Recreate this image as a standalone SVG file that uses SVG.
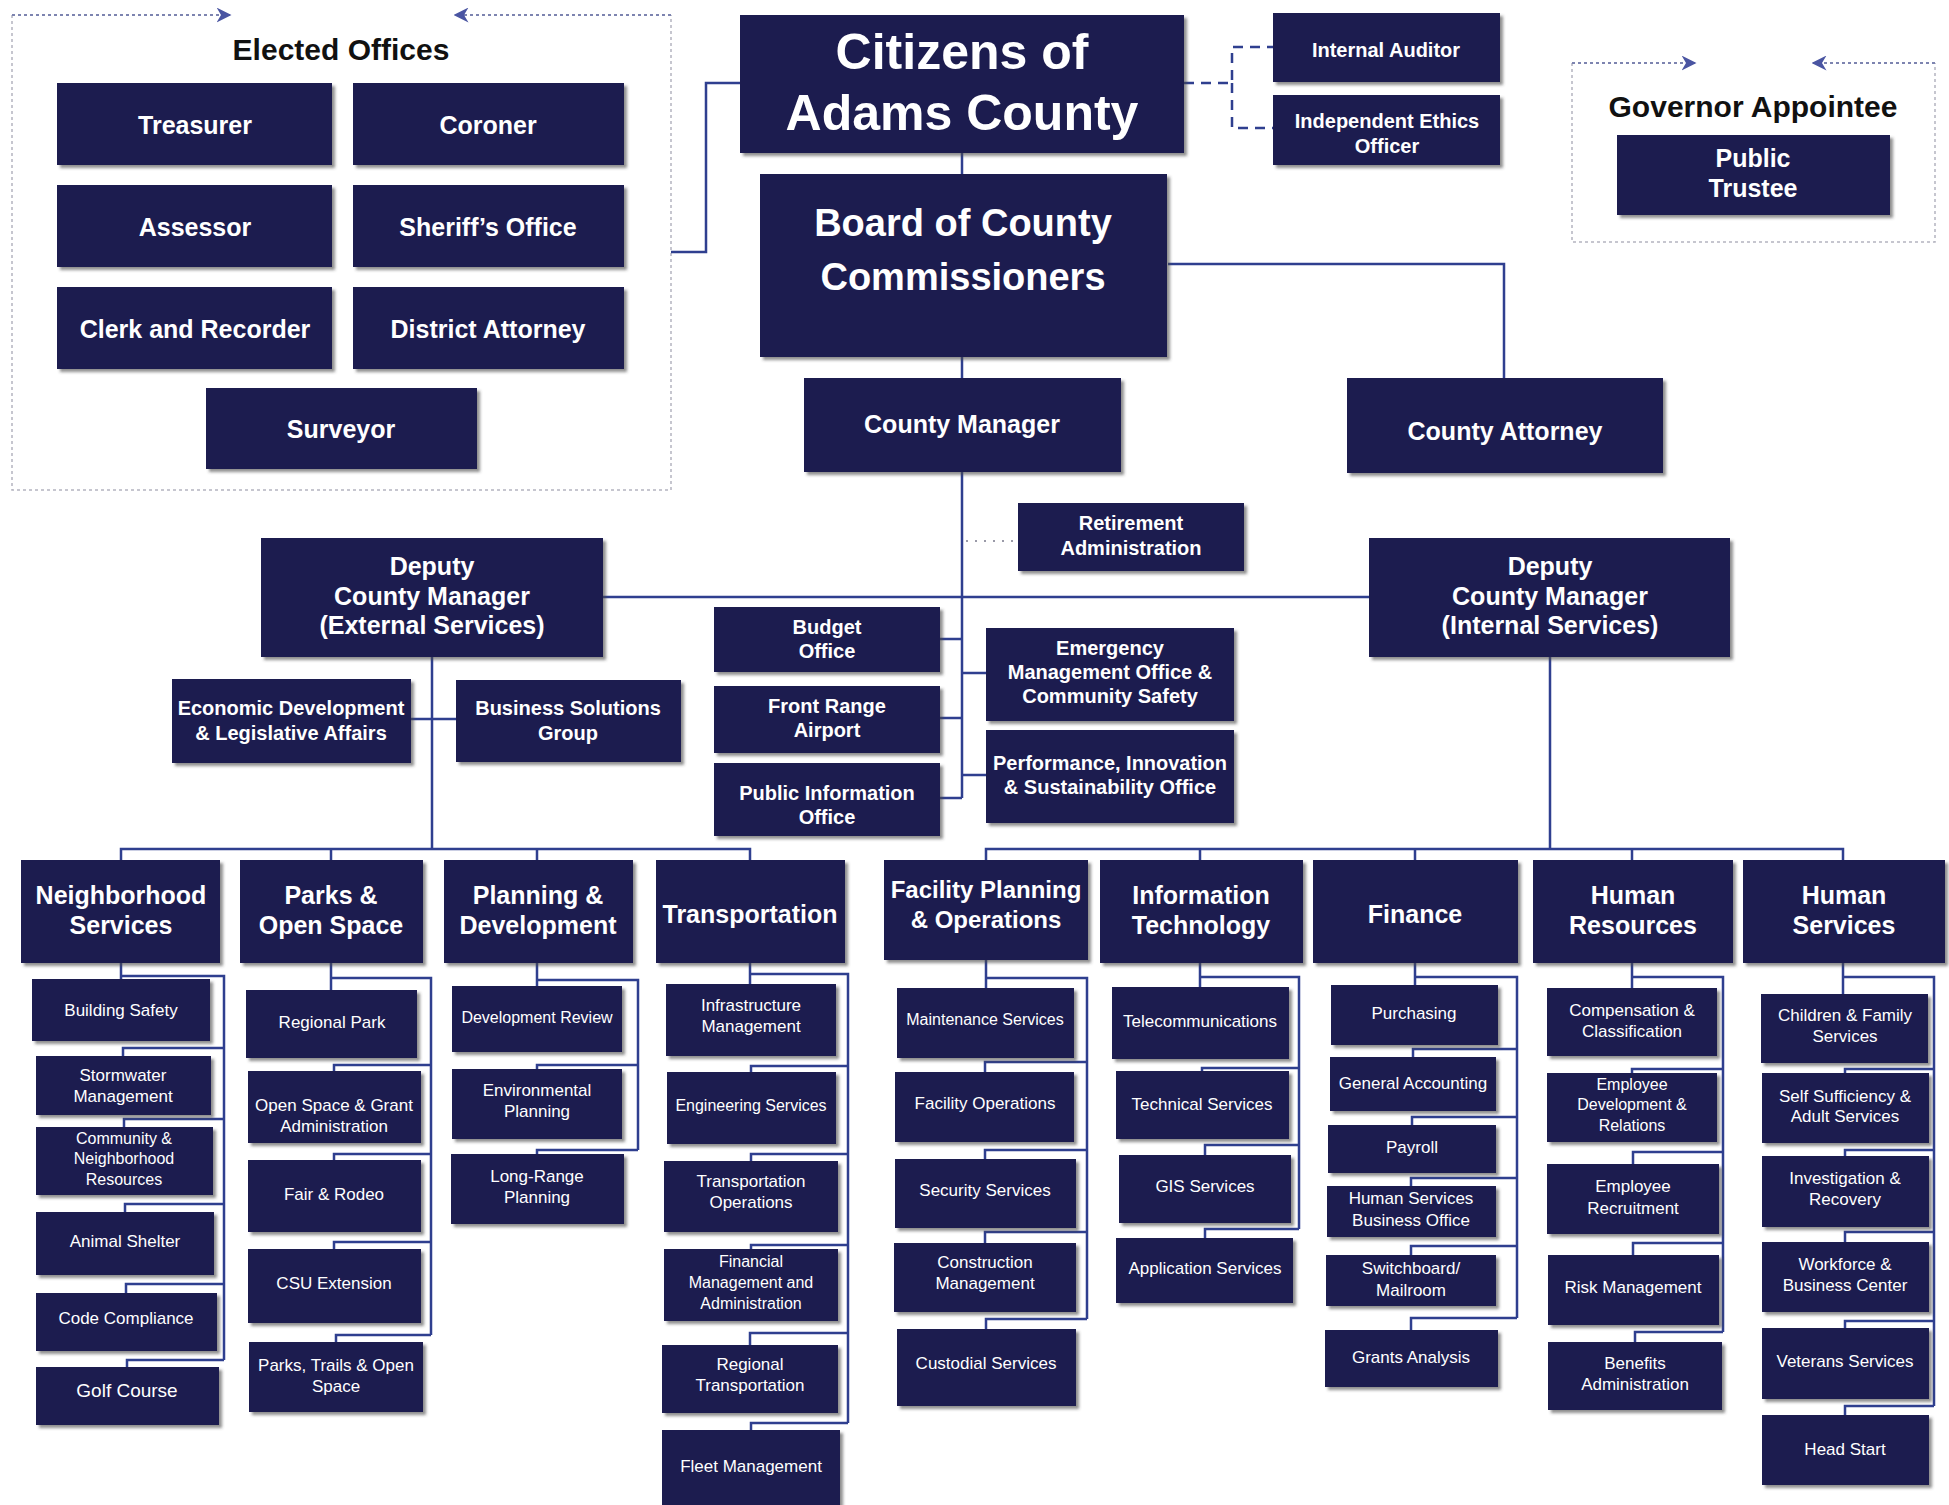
<svg xmlns="http://www.w3.org/2000/svg" width="1949" height="1505" viewBox="0 0 1949 1505">
<defs>
<style>
.b{fill:#1c1e4f;filter:url(#sh)}
text{font-family:"Liberation Sans",Arial,sans-serif;text-anchor:middle;fill:#fff}
.f17{font-size:17px}
.f16{font-size:16px}
.f19{font-size:19px}
.f20{font-weight:bold;font-size:20px}
.f24{font-weight:bold;font-size:24px}
.f25{font-weight:bold;font-size:25px}
.big{font-weight:bold;font-size:50px}
.brd{font-weight:bold;font-size:38px}
.ttl{fill:#111;font-weight:bold;font-size:30px}
.c{fill:none;stroke:#2f3f8f;stroke-width:2.5}
.cd{fill:none;stroke:#2f3f8f;stroke-width:2.5;stroke-dasharray:10 7}
.dot{fill:none;stroke:#b4b4c0;stroke-width:1.5;stroke-dasharray:3 3}
.dot2{fill:none;stroke:#7d84b0;stroke-width:2;stroke-dasharray:3 3}
.rdot{fill:none;stroke:#9a9aa8;stroke-width:2;stroke-dasharray:2 7}
</style>
<filter id="sh" x="-5%" y="-5%" width="115%" height="125%">
<feDropShadow dx="3" dy="3" stdDeviation="1.5" flood-color="#444" flood-opacity="0.6"/>
</filter>
<marker id="ah" viewBox="0 0 10 10" refX="9" refY="5" markerWidth="15" markerHeight="15" markerUnits="userSpaceOnUse" orient="auto">
<path d="M0,0 L10,5 L0,10 L3,5 Z" fill="#4a55a2"/>
</marker>
</defs>
<rect width="1949" height="1505" fill="#fff"/>

<g id="containers">
<path class="dot" d="M12,15 V490 H671 V15"/>
<path class="dot2" d="M12,15 H230" marker-end="url(#ah)"/>
<path class="dot2" d="M671,15 H455" marker-end="url(#ah)"/>
<text class="ttl" x="341" y="60">Elected Offices</text>
<path class="dot" d="M1572,63 V242 H1935 V63"/>
<path class="dot2" d="M1572,63 H1695" marker-end="url(#ah)"/>
<path class="dot2" d="M1935,63 H1813" marker-end="url(#ah)"/>
<text class="ttl" x="1753" y="117">Governor Appointee</text>
</g>

<g id="connectors">
<path class="c" d="M671,252 H706 V83 H740"/>
<path class="c" d="M962,153 V175"/>
<path class="c" d="M962,357 V378"/>
<path class="c" d="M1168,264 H1504 V378"/>
<path class="cd" d="M1184,83 H1232 V47 H1273 M1232,83 V128 H1273"/>
<path class="c" d="M962,472 V798"/>
<path class="rdot" d="M966,541 H1016"/>
<path class="c" d="M603,597 H1369"/>
<path class="c" d="M940,639 H962 M962,673 H986 M940,718 H962 M962,775 H986 M940,798 H962"/>
<path class="c" d="M432,657 V849 M411,719 H456"/>
<path class="c" d="M121,860 V849 H750 V860 M331,849 V860 M537,849 V860"/>
<path class="c" d="M1550,657 V849 M986,860 V849 H1843 V860 M1200,849 V860 M1415,849 V860 M1632,849 V860"/>
<path class="c" d="M121,963 V979 M121,976 H224 V1360 M123,1056 V1048 H224 M124,1127 V1119 H224 M125,1212 V1204 H224 M126,1293 V1284 H224 M127,1367 V1360 H224"/>
<path class="c" d="M331,963 V990 M331,978 H431 V1335 M334,1071 V1065 H431 M334,1160 V1154 H431 M334,1249 V1242 H431 M336,1342 V1335 H431"/>
<path class="c" d="M537,963 V986 M537,980 H638 V1150 M537,1069 V1065 H638 M537,1154 V1150 H638"/>
<path class="c" d="M750,963 V984 M750,974 H848 V1423 M751,1072 V1066 H848 M751,1161 V1154 H848 M751,1249 V1245 H848 M750,1345 V1333 H848 M751,1430 V1423 H848"/>
<path class="c" d="M986,960 V988 M986,978 H1087 V1319 M985,1072 V1062 H1087 M985,1159 V1150 H1087 M985,1243 V1232 H1087 M986,1329 V1319 H1087"/>
<path class="c" d="M1200,963 V987 M1200,977 H1299 V1229 M1202,1071 V1068 H1299 M1205,1155 V1145 H1299 M1205,1238 V1229 H1299"/>
<path class="c" d="M1415,963 V985 M1415,977 H1517 V1318 M1413,1057 V1049 H1517 M1412,1125 V1117 H1517 M1411,1186 V1178 H1517 M1411,1255 V1246 H1517 M1411,1330 V1318 H1517"/>
<path class="c" d="M1632,963 V988 M1632,977 H1723 V1332 M1632,1073 V1069 H1723 M1633,1164 V1152 H1723 M1633,1255 V1243 H1723 M1635,1342 V1332 H1723"/>
<path class="c" d="M1843,963 V994 M1843,977 H1934 V1406 M1845,1073 V1069 H1934 M1845,1156 V1150 H1934 M1845,1242 V1232 H1934 M1845,1328 V1321 H1934 M1845,1415 V1406 H1934"/>
</g>

<g id="treasurer"><rect class="b" x="57" y="83" width="275" height="82"/><text class="f25" x="195" y="134">Treasurer</text></g>
<g id="coroner"><rect class="b" x="353" y="83" width="271" height="82"/><text class="f25" x="488" y="134">Coroner</text></g>
<g id="assessor"><rect class="b" x="57" y="185" width="275" height="82"/><text class="f25" x="195" y="236">Assessor</text></g>
<g id="sheriff"><rect class="b" x="353" y="185" width="271" height="82"/><text class="f25" x="488" y="236">Sheriff’s Office</text></g>
<g id="clerk"><rect class="b" x="57" y="287" width="275" height="82"/><text class="f25" x="195" y="338">Clerk and Recorder</text></g>
<g id="da"><rect class="b" x="353" y="287" width="271" height="82"/><text class="f25" x="488" y="338">District Attorney</text></g>
<g id="surveyor"><rect class="b" x="206" y="388" width="271" height="81"/><text class="f25" x="341" y="438">Surveyor</text></g>

<g id="citizens"><rect class="b" x="740" y="15" width="444" height="138"/><text class="big" x="962" y="69">Citizens of</text><text class="big" x="962" y="130">Adams County</text></g>
<g id="board"><rect class="b" x="760" y="174" width="407" height="183"/><text class="brd" x="963" y="236">Board of County</text><text class="brd" x="963" y="290">Commissioners</text></g>
<g id="internal-auditor"><rect class="b" x="1273" y="13" width="227" height="69"/><text class="f20" x="1386" y="57">Internal Auditor</text></g>
<g id="ethics"><rect class="b" x="1273" y="95" width="227" height="70"/><text class="f20" x="1387" y="128">Independent Ethics</text><text class="f20" x="1387" y="153">Officer</text></g>
<g id="public-trustee"><rect class="b" x="1617" y="135" width="273" height="80"/><text class="f25" x="1753" y="167">Public</text><text class="f25" x="1753" y="197">Trustee</text></g>
<g id="county-manager"><rect class="b" x="804" y="378" width="317" height="94"/><text class="f25" x="962" y="433">County Manager</text></g>
<g id="county-attorney"><rect class="b" x="1347" y="378" width="316" height="95"/><text class="f25" x="1505" y="440">County Attorney</text></g>

<g id="retirement"><rect class="b" x="1018" y="503" width="226" height="68"/><text class="f20" x="1131" y="530">Retirement</text><text class="f20" x="1131" y="555">Administration</text></g>
<g id="deputy-ext"><rect class="b" x="261" y="538" width="342" height="119"/><text class="f25" x="432" y="575">Deputy</text><text class="f25" x="432" y="605">County Manager</text><text class="f25" x="432" y="634">(External Services)</text></g>
<g id="deputy-int"><rect class="b" x="1369" y="538" width="361" height="119"/><text class="f25" x="1550" y="575">Deputy</text><text class="f25" x="1550" y="605">County Manager</text><text class="f25" x="1550" y="634">(Internal Services)</text></g>
<g id="budget"><rect class="b" x="714" y="607" width="226" height="65"/><text class="f20" x="827" y="634">Budget</text><text class="f20" x="827" y="658">Office</text></g>
<g id="airport"><rect class="b" x="714" y="686" width="226" height="67"/><text class="f20" x="827" y="713">Front Range</text><text class="f20" x="827" y="737">Airport</text></g>
<g id="pio"><rect class="b" x="714" y="763" width="226" height="73"/><text class="f20" x="827" y="800">Public Information</text><text class="f20" x="827" y="824">Office</text></g>
<g id="emergency"><rect class="b" x="986" y="628" width="248" height="93"/><text class="f20" x="1110" y="655">Emergency</text><text class="f20" x="1110" y="679">Management Office &amp;</text><text class="f20" x="1110" y="703">Community Safety</text></g>
<g id="performance"><rect class="b" x="986" y="730" width="248" height="93"/><text class="f20" x="1110" y="770" textLength="234" lengthAdjust="spacingAndGlyphs">Performance, Innovation</text><text class="f20" x="1110" y="794">&amp; Sustainability Office</text></g>
<g id="econdev"><rect class="b" x="172" y="679" width="239" height="84"/><text class="f20" x="291" y="715">Economic Development</text><text class="f20" x="291" y="740">&amp; Legislative Affairs</text></g>
<g id="bsg"><rect class="b" x="456" y="680" width="225" height="82"/><text class="f20" x="568" y="715">Business Solutions</text><text class="f20" x="568" y="740">Group</text></g>

<g id="neighborhood"><rect class="b" x="21" y="860" width="199" height="103"/><text class="f25" x="121" y="904">Neighborhood</text><text class="f25" x="121" y="934">Services</text></g>
<g id="parks"><rect class="b" x="240" y="860" width="183" height="103"/><text class="f25" x="331" y="904">Parks &amp;</text><text class="f25" x="331" y="934">Open Space</text></g>
<g id="planning"><rect class="b" x="444" y="860" width="189" height="103"/><text class="f25" x="538" y="904">Planning &amp;</text><text class="f25" x="538" y="934">Development</text></g>
<g id="transportation"><rect class="b" x="656" y="860" width="189" height="103"/><text class="f25" x="750" y="923">Transportation</text></g>
<g id="facility"><rect class="b" x="884" y="860" width="204" height="100"/><text class="f24" x="986" y="898">Facility Planning</text><text class="f24" x="986" y="928">&amp; Operations</text></g>
<g id="it"><rect class="b" x="1100" y="860" width="203" height="103"/><text class="f25" x="1201" y="904">Information</text><text class="f25" x="1201" y="934">Technology</text></g>
<g id="finance"><rect class="b" x="1313" y="860" width="205" height="103"/><text class="f25" x="1415" y="923">Finance</text></g>
<g id="hr"><rect class="b" x="1533" y="860" width="200" height="103"/><text class="f25" x="1633" y="904">Human</text><text class="f25" x="1633" y="934">Resources</text></g>
<g id="hs"><rect class="b" x="1743" y="860" width="202" height="103"/><text class="f25" x="1844" y="904">Human</text><text class="f25" x="1844" y="934">Services</text></g>

<g id="building-safety"><rect class="b" x="32" y="979" width="178" height="62"/><text class="f17" x="121" y="1016">Building Safety</text></g>
<g id="stormwater"><rect class="b" x="36" y="1056" width="175" height="59"/><text class="f17" x="123" y="1081">Stormwater</text><text class="f17" x="123" y="1102">Management</text></g>
<g id="community"><rect class="b" x="36" y="1127" width="177" height="68"/><text class="f16" x="124" y="1144">Community &amp;</text><text class="f16" x="124" y="1164">Neighborhood</text><text class="f16" x="124" y="1185">Resources</text></g>
<g id="animal-shelter"><rect class="b" x="36" y="1212" width="178" height="63"/><text class="f17" x="125" y="1247">Animal Shelter</text></g>
<g id="code-compliance"><rect class="b" x="36" y="1293" width="181" height="58"/><text class="f17" x="126" y="1324">Code Compliance</text></g>
<g id="golf-course"><rect class="b" x="36" y="1367" width="183" height="58"/><text class="f19" x="127" y="1397">Golf Course</text></g>

<g id="regional-park"><rect class="b" x="246" y="990" width="171" height="68"/><text class="f17" x="332" y="1028">Regional Park</text></g>
<g id="open-space-grant"><rect class="b" x="248" y="1071" width="173" height="72"/><text class="f17" x="334" y="1111">Open Space &amp; Grant</text><text class="f17" x="334" y="1132">Administration</text></g>
<g id="fair-rodeo"><rect class="b" x="248" y="1160" width="173" height="72"/><text class="f17" x="334" y="1200">Fair &amp; Rodeo</text></g>
<g id="csu"><rect class="b" x="248" y="1249" width="173" height="74"/><text class="f17" x="334" y="1289">CSU Extension</text></g>
<g id="parks-trails"><rect class="b" x="249" y="1342" width="174" height="70"/><text class="f17" x="336" y="1371">Parks, Trails &amp; Open</text><text class="f17" x="336" y="1392">Space</text></g>

<g id="dev-review"><rect class="b" x="452" y="986" width="170" height="66"/><text class="f16" x="537" y="1023">Development Review</text></g>
<g id="env-planning"><rect class="b" x="452" y="1069" width="170" height="70"/><text class="f17" x="537" y="1096">Environmental</text><text class="f17" x="537" y="1117">Planning</text></g>
<g id="long-range"><rect class="b" x="451" y="1154" width="173" height="70"/><text class="f17" x="537" y="1182">Long-Range</text><text class="f17" x="537" y="1203">Planning</text></g>

<g id="infrastructure"><rect class="b" x="666" y="984" width="170" height="72"/><text class="f17" x="751" y="1011">Infrastructure</text><text class="f17" x="751" y="1032">Management</text></g>
<g id="engineering"><rect class="b" x="667" y="1072" width="169" height="72"/><text class="f16" x="751" y="1111">Engineering Services</text></g>
<g id="trans-ops"><rect class="b" x="664" y="1161" width="174" height="71"/><text class="f17" x="751" y="1187">Transportation</text><text class="f17" x="751" y="1208">Operations</text></g>
<g id="fin-mgmt"><rect class="b" x="664" y="1249" width="174" height="72"/><text class="f16" x="751" y="1267">Financial</text><text class="f16" x="751" y="1288">Management and</text><text class="f16" x="751" y="1309">Administration</text></g>
<g id="regional-trans"><rect class="b" x="662" y="1345" width="176" height="68"/><text class="f17" x="750" y="1370">Regional</text><text class="f17" x="750" y="1391">Transportation</text></g>
<g id="fleet"><rect class="b" x="662" y="1430" width="178" height="80"/><text class="f17" x="751" y="1472">Fleet Management</text></g>

<g id="maintenance"><rect class="b" x="897" y="988" width="177" height="70"/><text class="f16" x="985" y="1025">Maintenance Services</text></g>
<g id="facility-ops"><rect class="b" x="895" y="1072" width="179" height="70"/><text class="f17" x="985" y="1109">Facility Operations</text></g>
<g id="security"><rect class="b" x="895" y="1159" width="181" height="69"/><text class="f17" x="985" y="1196">Security Services</text></g>
<g id="construction"><rect class="b" x="894" y="1243" width="182" height="69"/><text class="f17" x="985" y="1268">Construction</text><text class="f17" x="985" y="1289">Management</text></g>
<g id="custodial"><rect class="b" x="897" y="1329" width="179" height="77"/><text class="f17" x="986" y="1369">Custodial Services</text></g>

<g id="telecom"><rect class="b" x="1112" y="987" width="177" height="72"/><text class="f17" x="1200" y="1027">Telecommunications</text></g>
<g id="technical"><rect class="b" x="1116" y="1071" width="173" height="68"/><text class="f17" x="1202" y="1110">Technical Services</text></g>
<g id="gis"><rect class="b" x="1119" y="1155" width="172" height="68"/><text class="f17" x="1205" y="1192">GIS Services</text></g>
<g id="application"><rect class="b" x="1116" y="1238" width="177" height="65"/><text class="f17" x="1205" y="1274">Application Services</text></g>

<g id="purchasing"><rect class="b" x="1331" y="985" width="167" height="60"/><text class="f17" x="1414" y="1019">Purchasing</text></g>
<g id="gen-accounting"><rect class="b" x="1330" y="1057" width="166" height="54"/><text class="f17" x="1413" y="1089">General Accounting</text></g>
<g id="payroll"><rect class="b" x="1328" y="1125" width="168" height="48"/><text class="f17" x="1412" y="1153">Payroll</text></g>
<g id="hs-business"><rect class="b" x="1327" y="1186" width="169" height="51"/><text class="f17" x="1411" y="1204">Human Services</text><text class="f17" x="1411" y="1226">Business Office</text></g>
<g id="switchboard"><rect class="b" x="1326" y="1255" width="170" height="51"/><text class="f17" x="1411" y="1274">Switchboard/</text><text class="f17" x="1411" y="1296">Mailroom</text></g>
<g id="grants"><rect class="b" x="1325" y="1330" width="173" height="57"/><text class="f17" x="1411" y="1363">Grants Analysis</text></g>

<g id="compensation"><rect class="b" x="1547" y="988" width="170" height="68"/><text class="f17" x="1632" y="1016">Compensation &amp;</text><text class="f17" x="1632" y="1037">Classification</text></g>
<g id="emp-dev"><rect class="b" x="1547" y="1073" width="170" height="69"/><text class="f16" x="1632" y="1090">Employee</text><text class="f16" x="1632" y="1110">Development &amp;</text><text class="f16" x="1632" y="1131">Relations</text></g>
<g id="recruitment"><rect class="b" x="1547" y="1164" width="172" height="70"/><text class="f17" x="1633" y="1192">Employee</text><text class="f17" x="1633" y="1214">Recruitment</text></g>
<g id="risk"><rect class="b" x="1548" y="1255" width="171" height="70"/><text class="f17" x="1633" y="1293">Risk Management</text></g>
<g id="benefits"><rect class="b" x="1548" y="1342" width="174" height="68"/><text class="f17" x="1635" y="1369">Benefits</text><text class="f17" x="1635" y="1390">Administration</text></g>

<g id="children-family"><rect class="b" x="1761" y="994" width="167" height="69"/><text class="f17" x="1845" y="1021">Children &amp; Family</text><text class="f17" x="1845" y="1042">Services</text></g>
<g id="self-sufficiency"><rect class="b" x="1762" y="1073" width="167" height="70"/><text class="f17" x="1845" y="1102">Self Sufficiency &amp;</text><text class="f17" x="1845" y="1122">Adult Services</text></g>
<g id="investigation"><rect class="b" x="1762" y="1156" width="167" height="71"/><text class="f17" x="1845" y="1184">Investigation &amp;</text><text class="f17" x="1845" y="1205">Recovery</text></g>
<g id="workforce"><rect class="b" x="1762" y="1242" width="167" height="70"/><text class="f17" x="1845" y="1270">Workforce &amp;</text><text class="f17" x="1845" y="1291">Business Center</text></g>
<g id="veterans"><rect class="b" x="1762" y="1328" width="167" height="71"/><text class="f17" x="1845" y="1367">Veterans Services</text></g>
<g id="head-start"><rect class="b" x="1762" y="1415" width="167" height="70"/><text class="f17" x="1845" y="1455">Head Start</text></g>
</svg>
